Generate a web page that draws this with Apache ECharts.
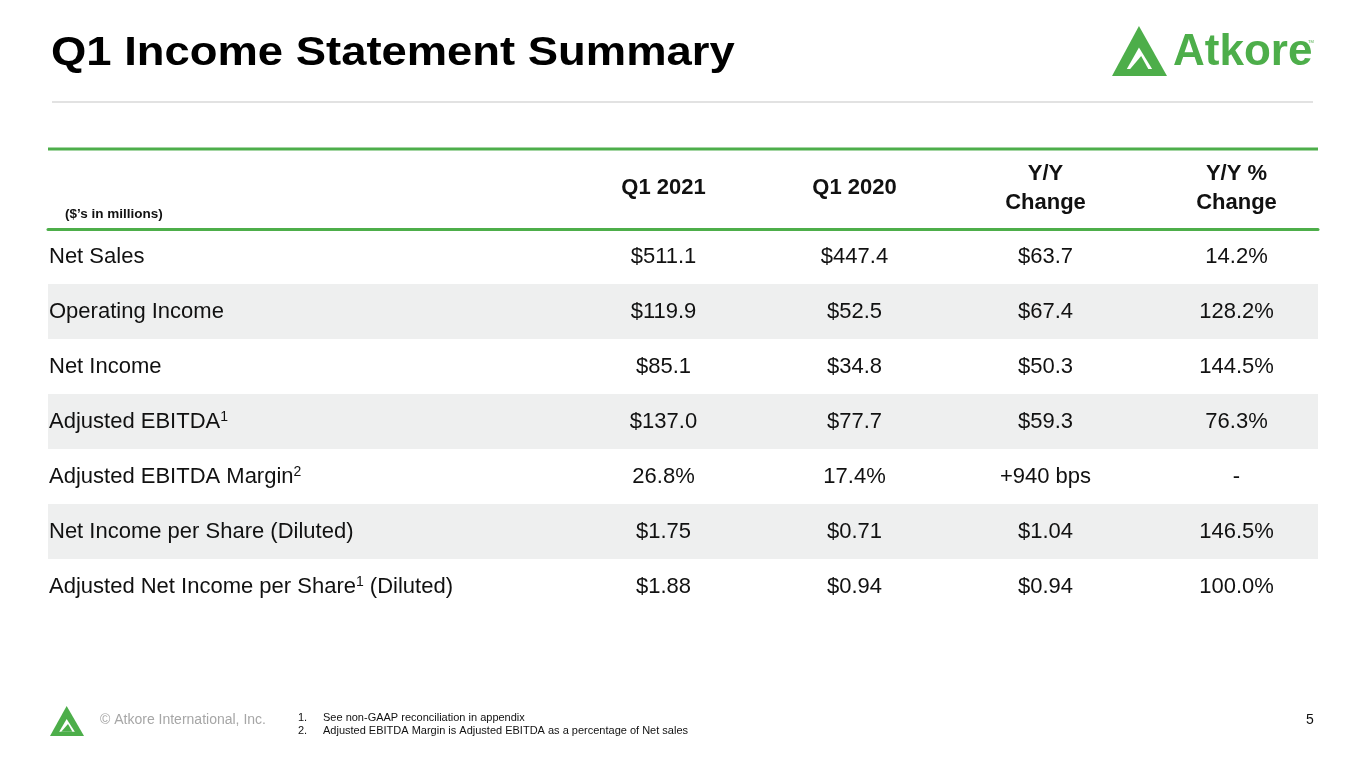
<!DOCTYPE html>
<html>
<head>
<meta charset="utf-8">
<title>Q1 Income Statement Summary</title>
<script src="https://cdn.jsdelivr.net/npm/echarts@6/dist/echarts.min.js"></script>
<style>
    html, body { margin: 0; padding: 0; background: #fff; }
    #main { width: 1365px; height: 768px; }
</style>
</head>
<body>
<div id="main"></div>
<script>
// table content
var colLabels = ['Q1 2021', 'Q1 2020', 'Y/Y\nChange', 'Y/Y %\nChange'];
var rowNames = [
    'Net Sales',
    'Operating Income',
    'Net Income',
    'Adjusted EBITDA{sup|1}',
    'Adjusted EBITDA Margin{sup|2}',
    'Net Income per Share (Diluted)',
    'Adjusted Net Income per Share{sup|1} (Diluted)'
];
var q1_2021 = ['$511.1', '$119.9', '$85.1', '$137.0', '26.8%', '$1.75', '$1.88'];
var q1_2020 = ['$447.4', '$52.5', '$34.8', '$77.7', '17.4%', '$0.71', '$0.94'];
var yoyChange = ['$63.7', '$67.4', '$50.3', '$59.3', '+940 bps', '$1.04', '$0.94'];
var yoyPct = ['14.2%', '128.2%', '144.5%', '76.3%', '-', '146.5%', '100.0%'];
var footnotes = ['See non-GAAP reconciliation in appendix', 'Adjusted EBITDA Margin is Adjusted EBITDA as a percentage of Net sales'];

var green = '#4dae4a';
var ink = '#111111';
var font = '"Liberation Sans", Arial, sans-serif';

var columns = [q1_2021, q1_2020, yoyChange, yoyPct];
var cells = [];
for (var c = 0; c < columns.length; c++) {
    for (var r = 0; r < rowNames.length; r++) {
        cells.push([c, r, columns[c][r]]);
    }
}

function logo(x, y, w, h, color) {
    // triangle mark, in a w x h box
    function pt(u, v) { return [x + u * w, y + v * h]; }
    return [
        { type: 'polygon', shape: { points: [pt(0, 1), pt(0.49, 0), pt(1, 1)] }, style: { fill: color } },
        { type: 'polygon', shape: { points: [pt(0.27, 0.86), pt(0.49, 0.43), pt(0.73, 0.86)] }, style: { fill: '#fff' } },
        { type: 'polygon', shape: { points: [pt(0.33, 0.86), pt(0.53, 0.6), pt(0.66, 0.86)] }, style: { fill: color } }
    ];
}

var chart = echarts.init(document.getElementById('main'));

var graphics = [
    { type: 'text', left: 51, top: 34, scaleX: 1.135,
      style: { text: 'Q1 Income Statement Summary', font: 'bold 40px ' + font, fill: '#000' } },
    { type: 'line', shape: { x1: 52, y1: 102, x2: 1313, y2: 102 }, style: { stroke: '#d9d9d9', lineWidth: 1.5 } },
    { type: 'line', shape: { x1: 48, y1: 149, x2: 1318, y2: 149 }, style: { stroke: green, lineWidth: 3 } },
    { type: 'text', left: 65, top: 207,
      style: { text: '($\u2019s in millions)', font: 'bold 13.5px ' + font, fill: ink } },
    { type: 'text', left: 1173, top: 31,
      style: { text: 'Atkore', font: 'bold 44px ' + font, fill: green } },
    { type: 'text', left: 1308, top: 40,
      style: { text: 'TM', font: '4px ' + font, fill: green } },
    { type: 'text', left: 100, top: 713,
      style: { text: '\u00a9 Atkore International, Inc.', font: '14px ' + font, fill: '#a6a6a6' } },
    { type: 'text', left: 298, top: 711,
      style: { text: '1.\n2.', font: '11px ' + font, fill: ink, lineHeight: 13.5 } },
    { type: 'text', left: 323, top: 711,
      style: { text: footnotes.join('\n'), font: '11px ' + font, fill: ink, lineHeight: 13.5 } },
    { type: 'text', left: 1306, top: 713,
      style: { text: '5', font: '14px ' + font, fill: ink } }
];
graphics = graphics.concat(logo(1112, 26, 55, 50, green), logo(50, 706, 34, 30, green));

var option = {
    animation: false,
    backgroundColor: '#fff',
    textStyle: { fontFamily: font },
    grid: [
        { left: 48, right: 47, top: 229, height: 385 },
        { left: 568, right: 33, top: 229, height: 385 }
    ],
    xAxis: [
        {
            gridIndex: 0, type: 'value', min: 0, max: 1, position: 'top',
            axisLine: { show: true, onZero: false, lineStyle: { color: green, width: 3 } },
            axisTick: { show: false }, axisLabel: { show: false }, splitLine: { show: false }
        },
        {
            gridIndex: 1, type: 'category', data: colLabels, position: 'top',
            axisLine: { show: false }, axisTick: { show: false },
            axisLabel: {
                margin: 41, verticalAlign: 'middle', interval: 0,
                fontSize: 22, fontWeight: 'bold', lineHeight: 29, color: ink, fontFamily: font
            }
        }
    ],
    yAxis: [
        {
            gridIndex: 0, type: 'category', data: rowNames, inverse: true,
            axisLine: { show: false }, axisTick: { show: false },
            splitArea: { show: true, areaStyle: { color: ['#ffffff', '#eeefef'] } },
            axisLabel: {
                inside: true, margin: 1, interval: 0,
                fontSize: 22, color: ink, fontFamily: font,
                rich: {
                    sup: { fontSize: 14, verticalAlign: 'top', color: ink, fontFamily: font, padding: [0, 0, 6, 0] }
                }
            }
        },
        {
            gridIndex: 1, type: 'category', data: rowNames, inverse: true, show: false
        }
    ],
    series: [{
        type: 'scatter',
        xAxisIndex: 1, yAxisIndex: 1,
        symbolSize: 0,
        itemStyle: { color: ink, opacity: 1 },
        label: {
            show: true, position: 'inside', opacity: 1,
            fontSize: 22, color: ink, fontFamily: font,
            textBorderWidth: 0,
            formatter: function(p) { return p.value[2]; }
        },
        emphasis: { disabled: true },
        data: cells
    }],
    graphic: graphics
};

chart.setOption(option);
</script>
</body>
</html>
